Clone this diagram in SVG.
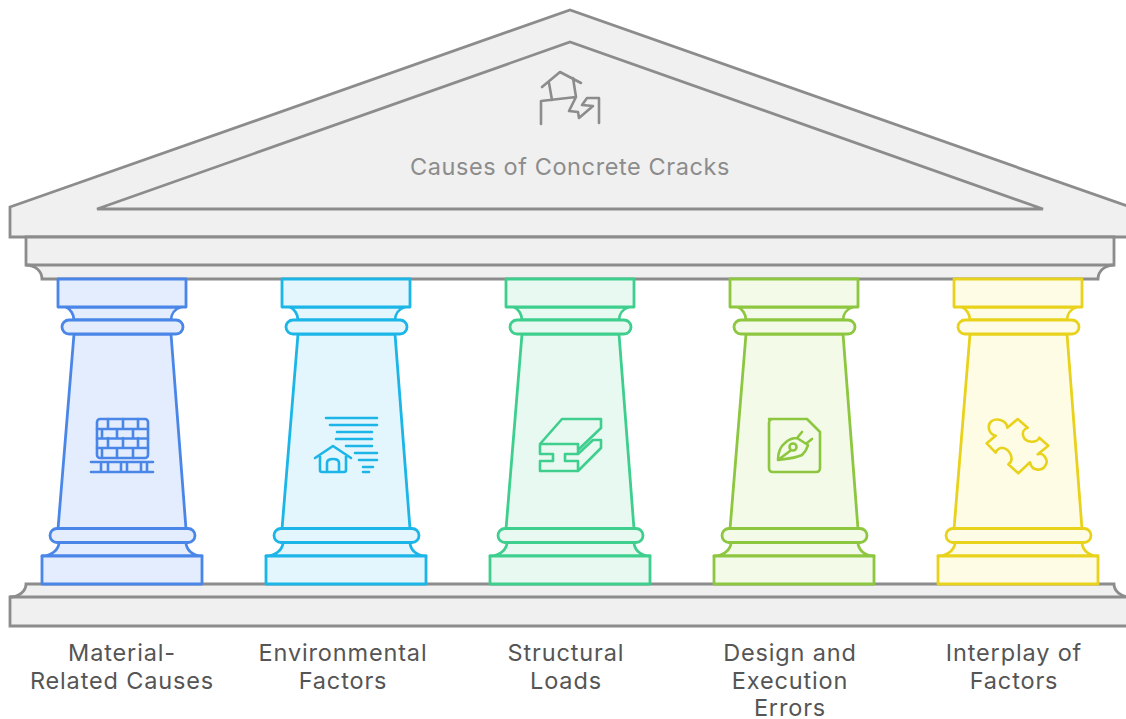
<svg xmlns="http://www.w3.org/2000/svg" xmlns:xlink="http://www.w3.org/1999/xlink" width="1126" height="719" viewBox="0 0 1126 719">
<style>
.stone{fill:#f0f0f0;stroke:#8c8c8c;stroke-width:2.800;stroke-linejoin:miter}
.ic{fill:none;stroke-width:2.600;stroke-linecap:round;stroke-linejoin:round}
.t{font-family:Inter,"Liberation Sans",sans-serif;font-size:23.500px;fill:#555;text-anchor:middle;letter-spacing:.85px}
</style>
<defs>
<g id="col" stroke-width="2.800" stroke-linejoin="round">
<path d="M74 334L58 529H186L171 334Z"/>
<path d="M59 542C59 550 51 556 42 556H202C193 556 186 550 186 542ZM66 307C70 309 74 314 74 320H171C171 314 175 309 181 307Z"/>
<rect x="58" y="279" width="128" height="28"/>
<rect x="62" y="320" width="121" height="14" rx="7" ry="7"/>
<rect x="50" y="528.500" width="145" height="14" rx="7" ry="7"/>
<rect x="42" y="556" width="160" height="28"/>
</g>
</defs>
<g id="roof">
<path class="stone" d="M10 207L570 10L1130 207V237H10Z"/>
<path class="stone" d="M97 209L570 42L1043 209Z"/>
<path class="stone" d="M26 237H1114V265C1105 265 1098 271 1098 279H42C42 271 35 265 26 265Z"/>
<path class="stone" fill="none" d="M26 265H1114"/>
<path class="ic" stroke="#8c8c8c" d="M542 87L560 72L581 83M549 83L552 100M573 78L576 97M541 124V101L576 97L569 111L578 112L579 118L593 106L582 105L587 98H599V123"/>
</g>
<g id="base">
<path class="stone" d="M26 584H1114C1114 591 1121 597 1130 597V626H10V597C19 597 26 591 26 584Z"/>
<path class="stone" d="M10 597H1130"/>
</g>
<g id="connectors"/>
<g id="column-1" fill="#e3edfd" stroke="#4a86e8"><use xlink:href="#col"/>
<g class="ic"><rect x="97" y="419" width="51" height="39" rx="3"/><path d="M97 429H148M97 438.500H148M97 448H148M108 419V429M123 419V429M138 419V429M102 429V438M117 429V438M133 429V438M108 438V448M123 438V448M138 438V448M102 448V458M117 448V458M133 448V458M91 462H153M91 472H153M101 462V472M108 462V472M121 462V472M127 462V472M141 462V472M147 462V472"/></g></g>
<g id="column-2" fill="#e3f6fd" stroke="#1cb5e8"><use xlink:href="#col" x="224"/>
<g class="ic"><path d="M326 418H377M330 425H377M337 432H372M336 439H372M346 446H372M355 453H377M359 460H377M363 467H373M363 472H369M315 458L333 446L351 458M320 456V470Q320 472 322 472H344Q346 472 346 470V456M327 472V463Q327 459 333 459Q339 459 339 463V472"/></g></g>
<g id="column-3" fill="#e8f9f1" stroke="#3ecf8e"><use xlink:href="#col" x="448"/>
<g class="ic"><path d="M540 444H578V454H565V461H578V471H540V461H553V454H540ZM540 444L562 419H601V428L578 450M578 454L593 440H601V448L578 471"/></g></g>
<g id="column-4" fill="#f3fae8" stroke="#8dc63f"><use xlink:href="#col" x="672"/>
<g class="ic"><path d="M769 419H807L820 432V468Q820 472 816 472H773Q769 472 769 468V423Q769 419 773 419Z"/><path d="M778 460C778 452 781 446 785 443C789 439 794 438 797 438L808 445C807 449 804 453 802 455C796 458 786 459 778 460ZM778 460L790 451M797 438L802 432M807 443L812 439"/><circle cx="793" cy="447" r="3.500"/></g></g>
<g id="column-5" fill="#fffce6" stroke="#e8d21c"><use xlink:href="#col" x="896"/>
<g class="ic" stroke-width="3"><path d="M995.700 435.700C988.300 434.300 986.700 425 991.700 421C996.700 417.700 1006.700 420 1007.300 427.700L1017.700 419L1027.700 427.700C1020 430 1021.700 441.700 1031.700 441.700C1035 441.700 1038.300 440 1039.300 437.700L1048.300 445.700L1037.700 454.300C1043.300 451.700 1048.300 460 1046 464.300C1043.300 471.700 1031.700 471.700 1030 462.300L1018.300 473.300L1008.300 464.300C1015 460 1010 448.300 1001.700 447.700C998.300 447.700 995.700 451.700 995.700 452.700L986.700 443.300Z"/></g></g>
<g id="title"><text class="t" x="570" y="175" style="fill:#8c8c8c;letter-spacing:.6px">Causes of Concrete Cracks</text></g>
<g id="labels">
<text class="t" x="122" y="661">Material-</text><text class="t" x="122" y="689">Related Causes</text>
<text class="t" x="343" y="661">Environmental</text><text class="t" x="343" y="689">Factors</text>
<text class="t" x="566" y="661">Structural</text><text class="t" x="566" y="689">Loads</text>
<text class="t" x="790" y="661">Design and</text><text class="t" x="790" y="689">Execution</text><text class="t" x="790" y="716">Errors</text>
<text class="t" x="1014" y="661">Interplay of</text><text class="t" x="1014" y="689">Factors</text>
</g>
</svg>
